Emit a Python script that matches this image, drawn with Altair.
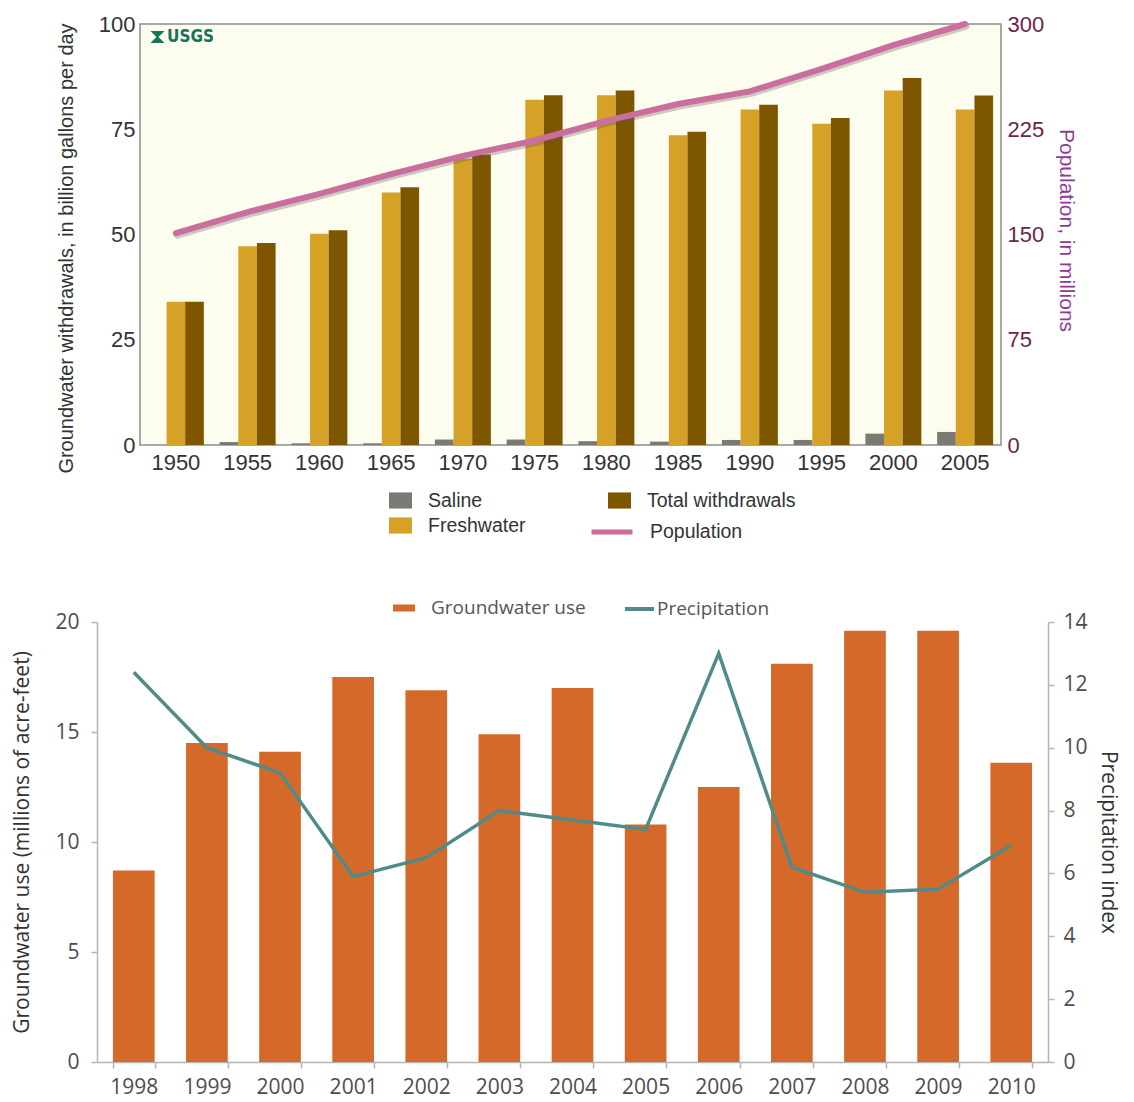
import altair as alt
import pandas as pd

# ---------------- data (top chart) ----------------
years_top = ['1950', '1955', '1960', '1965', '1970', '1975',
             '1980', '1985', '1990', '1995', '2000', '2005']
saline = [0.0, 0.7, 0.4, 0.4, 1.3, 1.3, 0.9, 0.8, 1.2, 1.2, 2.7, 3.1]
freshwater = [34.0, 47.2, 50.2, 60.0, 68.0, 82.0, 83.1, 73.6, 79.7, 76.3, 84.2, 79.7]
total_withdrawals = [34.0, 48.0, 51.0, 61.2, 69.0, 83.1, 84.2, 74.4, 80.8, 77.7, 87.2, 83.0]
population = [151, 166, 179, 193, 206, 217, 231, 243, 252, 268, 285, 300]

# ---------------- data (bottom chart) ----------------
years_bot = ['1998', '1999', '2000', '2001', '2002', '2003', '2004',
             '2005', '2006', '2007', '2008', '2009', '2010']
groundwater_use = [8.7, 14.5, 14.1, 17.5, 16.9, 14.9, 17.0, 10.8, 12.5, 18.1, 19.6, 19.6, 13.6]
precipitation = [12.4, 10.0, 9.2, 5.9, 6.5, 8.0, 7.7, 7.4, 13.0, 6.2, 5.4, 5.5, 6.9]

series_order = ['Saline', 'Freshwater', 'Total withdrawals']
series_colors = ['#7b7a72', '#d5a127', '#7e5600']

rows = []
for name, vals in zip(series_order, [saline, freshwater, total_withdrawals]):
    for yr, v in zip(years_top, vals):
        rows.append({'year': yr, 'series': name, 'value': v})
top_df = pd.DataFrame(rows)
pop_df = pd.DataFrame({'year': years_top, 'pop': population,
                       'series': ['Population'] * len(years_top)})
logo_df = pd.DataFrame({'label': ['USGS']})

TOPF = 'Liberation Sans'
BOTF = 'Open Sans'

x_top = alt.X('year:N', title=None, sort=years_top,
              scale=alt.Scale(paddingInner=0.22, paddingOuter=0.11),
              axis=alt.Axis(labelAngle=0, labelFont=TOPF, labelFontSize=22,
                            labelColor='#333333', ticks=False, domain=False,
                            labelPadding=7))

bars = alt.Chart(top_df).mark_bar().encode(
    x=x_top,
    xOffset=alt.XOffset('series:N', sort=series_order,
                        scale=alt.Scale(domain=series_order, paddingInner=0, paddingOuter=0)),
    y=alt.Y('value:Q', scale=alt.Scale(domain=[0, 100], nice=False),
            axis=alt.Axis(values=[0, 25, 50, 75, 100],
                          title='Groundwater withdrawals, in billion gallons per day',
                          titleFont=TOPF, titleFontSize=20, titleFontWeight='normal',
                          titleColor='#333333', titlePadding=22, titleY=224,
                          labelFont=TOPF, labelFontSize=22, labelColor='#333333',
                          labelPadding=5, ticks=False, domain=False, grid=False)),
    color=alt.Color('series:N',
                    scale=alt.Scale(domain=series_order, range=series_colors),
                    legend=alt.Legend(title=None, orient='none', legendX=380, legendY=465,
                                      values=series_order,
                                      columns=2, columnPadding=82, rowPadding=4,
                                      symbolType='M-1,-0.7H1V0.7H-1Z', symbolSize=529,
                                      symbolStrokeWidth=0, labelFont=TOPF,
                                      labelFontSize=19.5, labelColor='#333333',
                                      labelOffset=16, padding=0)),
)

logo_icon = alt.Chart(logo_df).mark_point(
    shape='M-1,-0.85L1,-0.85L0.15,0L1,0.85L-1,0.85L-0.15,0Z',
    filled=True, size=200, color='#13765a', opacity=1).encode(
    x=alt.value(17.5), y=alt.value(13))
logo_text = alt.Chart(logo_df).mark_text(
    align='left', baseline='middle', font='Liberation Sans Narrow, DejaVu Sans Condensed, sans-serif',
    fontSize=17, fontWeight='bold', color='#13765a').encode(
    x=alt.value(27), y=alt.value(13), text='label:N')

pop_shadow = alt.Chart(pop_df).mark_line(
    strokeWidth=6, strokeCap='round', color='#555555', opacity=0.3,
    xOffset=1.5, yOffset=2.5).encode(
    x=x_top,
    y=alt.Y('pop:Q', scale=alt.Scale(domain=[0, 300], nice=False), axis=None))

pop_line = alt.Chart(pop_df).mark_line(strokeWidth=6, strokeCap='round').encode(
    x=x_top,
    y=alt.Y('pop:Q', scale=alt.Scale(domain=[0, 300], nice=False),
            axis=alt.Axis(orient='right', values=[0, 75, 150, 225, 300],
                          title='Population, in millions', titleFont=TOPF,
                          titleFontSize=21, titleFontWeight='normal',
                          titleColor='#8f3a96', titlePadding=12, titleY=206,
                          labelFont=TOPF, labelFontSize=22, labelColor='#6d1f4e',
                          labelPadding=6, ticks=False, domain=False, grid=False)),
    stroke=alt.Stroke('series:N',
                      scale=alt.Scale(domain=['Population'], range=['#cc6e9d']),
                      legend=alt.Legend(title=None, orient='none', legendX=580, legendY=485,
                                        symbolType='stroke', symbolSize=1681,
                                        symbolStrokeWidth=5, labelFont=TOPF,
                                        labelFontSize=19.5, labelColor='#333333',
                                        labelOffset=15, padding=0)),
)

top = alt.layer(bars, logo_icon, logo_text, pop_shadow, pop_line).resolve_scale(
    y='independent').properties(
    width=861, height=421,
    view=alt.ViewBackground(fill='#fdfdef', stroke='#8c8c8c', strokeWidth=1.5))

# ---------------- bottom chart ----------------
bot_df = pd.DataFrame({'year': years_bot, 'use': groundwater_use, 'precip': precipitation,
                       'use_series': ['Groundwater use'] * len(years_bot),
                       'precip_series': ['Precipitation'] * len(years_bot)})

x_bot = alt.X('year:N', title=None, sort=years_bot,
              scale=alt.Scale(paddingInner=0.43, paddingOuter=0.218),
              axis=alt.Axis(labelAngle=0, tickBand='extent', labelFont=BOTF,
                            labelFontSize=21, labelColor='#4d4d4d',
                            domainColor='#b5b5b5', domainWidth=1.5,
                            tickColor='#b5b5b5', tickWidth=1.5, tickSize=6,
                            labelPadding=8))

bars_b = alt.Chart(bot_df).mark_bar().encode(
    x=x_bot,
    y=alt.Y('use:Q', scale=alt.Scale(domain=[0, 20], nice=False),
            axis=alt.Axis(values=[0, 5, 10, 15, 20],
                          title='Groundwater use (millions of acre-feet)',
                          titleFont=BOTF, titleFontSize=21, titleFontWeight='normal',
                          titleColor='#333333', titlePadding=22,
                          labelFont=BOTF, labelFontSize=21, labelColor='#4d4d4d',
                          labelPadding=12, tickSize=6, tickColor='#b5b5b5', tickWidth=1.5,
                          domainColor='#b5b5b5', domainWidth=1.5, grid=False)),
    fill=alt.Fill('use_series:N',
                  scale=alt.Scale(domain=['Groundwater use'], range=['#d4692a']),
                  legend=alt.Legend(title=None, orient='none', legendX=384, legendY=-25,
                                    symbolType='M-1,-0.32H1V0.32H-1Z', symbolSize=484,
                                    symbolStrokeWidth=0, labelFont=BOTF,
                                    labelFontSize=19, labelColor='#555555',
                                    labelOffset=16, padding=0)),
)

line_b = alt.Chart(bot_df).mark_line(strokeWidth=3.5).encode(
    x=x_bot,
    y=alt.Y('precip:Q', scale=alt.Scale(domain=[0, 14], nice=False),
            axis=alt.Axis(orient='right', values=[0, 2, 4, 6, 8, 10, 12, 14],
                          title='Precipitation index', titleFont=BOTF,
                          titleFontSize=21, titleFontWeight='normal',
                          titleColor='#333333', titlePadding=10,
                          labelFont=BOTF, labelFontSize=21, labelColor='#4d4d4d',
                          labelPadding=9, tickSize=6, tickColor='#b5b5b5', tickWidth=1.5,
                          domainColor='#b5b5b5', domainWidth=1.5, grid=False)),
    stroke=alt.Stroke('precip_series:N',
                      scale=alt.Scale(domain=['Precipitation'], range=['#4f8c89']),
                      legend=alt.Legend(title=None, orient='none', legendX=614, legendY=-29.5,
                                        symbolType='stroke', symbolSize=841,
                                        symbolStrokeWidth=4, labelFont=BOTF,
                                        labelFontSize=19, labelColor='#555555',
                                        labelOffset=1, padding=0)),
)

bottom = alt.layer(bars_b, line_b).resolve_scale(y='independent').properties(
    width=951, height=440)


def spacer(w):
    return alt.Chart(pd.DataFrame({'s': [0]})).mark_rule(opacity=0).encode(
        x=alt.value(0), x2=alt.value(w), y=alt.value(0)).properties(width=w, height=1)


chart = alt.vconcat(
    alt.hconcat(spacer(45), top, spacing=0),
    alt.hconcat(spacer(1), bottom, spacing=0),
    spacing=50,
).resolve_scale(color='independent', stroke='independent', fill='independent').properties(
    padding={'left': 0, 'top': 3, 'right': 6, 'bottom': 0}
).configure_view(stroke='transparent')

chart.save('out.html', embed_options={'renderer': 'svg', 'actions': False})
